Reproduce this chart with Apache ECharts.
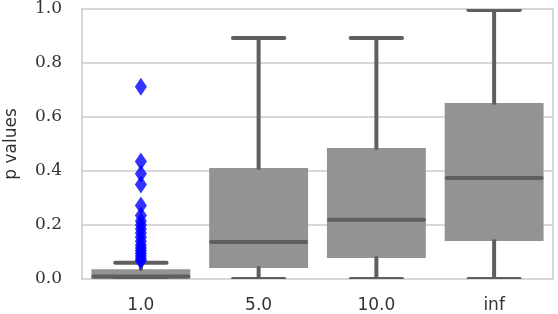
<!DOCTYPE html>
<html><head><meta charset="utf-8">
<script src="https://cdn.jsdelivr.net/npm/echarts@6/dist/echarts.min.js"></script>
<style>html,body{margin:0;padding:0;background:#fff}#c{width:558px;height:314px}</style>
</head><body><div id="c"></div>
<script>
var categories = ['1.0', '5.0', '10.0', 'inf'];
// [low whisker, q1, median, q3, high whisker]
var boxLow    = [0.0, 0.0, 0.0, 0.0];
var boxQ1     = [0.0, 0.041, 0.078, 0.141];
var boxMedian = [0.009, 0.137, 0.219, 0.374];
var boxQ3     = [0.036, 0.411, 0.485, 0.652];
var boxHigh   = [0.06, 0.893, 0.893, 0.996];
var outlierCategory = '1.0';
var outlierValues = [0.712, 0.435, 0.39, 0.35, 0.272, 0.235, 0.215, 0.2, 0.185, 0.17, 0.155, 0.14, 0.125, 0.115, 0.105, 0.095, 0.085, 0.075, 0.068];
var yTicks = [0, 0.2, 0.4, 0.6, 0.8, 1.0];

var boxData = categories.map(function (c, i) {
  return [i, boxLow[i], boxQ1[i], boxMedian[i], boxQ3[i], boxHigh[i]];
});
var outlierData = outlierValues.map(function (v) { return [outlierCategory, v]; });

var lineColor = '#5f5f5f';
var chart = echarts.init(document.getElementById('c'), null, {renderer: 'canvas'});
chart.setOption({
  animation: false,
  backgroundColor: '#fff',
  grid: {left: 82, right: 5, top: 9, bottom: 35, show: true, borderColor: '#d8d8d8', borderWidth: 2, backgroundColor: 'transparent', containLabel: false, outerBoundsMode: 'none'},
  xAxis: {
    type: 'category', data: categories, boundaryGap: true,
    axisLine: {show: false}, axisTick: {show: false}, splitLine: {show: false},
    axisLabel: {fontFamily: 'DejaVu Sans', fontSize: 17, color: '#333', margin: 18}
  },
  yAxis: {
    type: 'value', min: yTicks[0], max: yTicks[yTicks.length - 1], interval: 0.2,
    name: 'p values', nameLocation: 'middle', nameGap: 62,
    nameTextStyle: {fontFamily: 'DejaVu Sans', fontSize: 17, color: '#333'},
    axisLine: {show: false}, axisTick: {show: false},
    splitLine: {show: true, lineStyle: {color: '#d8d8d8', width: 2}},
    axisLabel: {fontFamily: 'DejaVu Serif', fontSize: 17, color: '#333', margin: 20,
      formatter: function (v) { return v.toFixed(1); }}
  },
  series: [{
    type: 'custom', data: boxData, clip: true, z: 2,
    encode: {x: 0, y: [1, 2, 3, 4, 5]},
    renderItem: function (params, api) {
      var idx = api.value(0);
      var band = api.size([1, 0])[0];
      var bw = band * 0.84;
      var cw = bw * 0.52;
      var pLow = api.coord([idx, api.value(1)]);
      var pQ1 = api.coord([idx, api.value(2)]);
      var pMed = api.coord([idx, api.value(3)]);
      var pQ3 = api.coord([idx, api.value(4)]);
      var pHigh = api.coord([idx, api.value(5)]);
      var cx = pQ1[0];
      var ls = {stroke: lineColor, lineWidth: 4, lineCap: 'round'};
      return {type: 'group', children: [
        {type: 'rect', shape: {x: cx - bw / 2, y: pQ3[1], width: bw, height: pQ1[1] - pQ3[1]}, style: {fill: '#939393'}},
        {type: 'line', shape: {x1: cx, y1: pQ3[1], x2: cx, y2: pHigh[1]}, style: ls},
        {type: 'line', shape: {x1: cx, y1: pQ1[1], x2: cx, y2: pLow[1]}, style: ls},
        {type: 'line', shape: {x1: cx - cw / 2, y1: pHigh[1], x2: cx + cw / 2, y2: pHigh[1]}, style: ls},
        {type: 'line', shape: {x1: cx - cw / 2, y1: pLow[1], x2: cx + cw / 2, y2: pLow[1]}, style: ls},
        {type: 'line', shape: {x1: cx - bw / 2 + 2, y1: pMed[1], x2: cx + bw / 2 - 2, y2: pMed[1]}, style: ls}
      ]};
    }
  }, {
    type: 'scatter', data: outlierData, symbol: 'diamond', symbolSize: [12, 18], z: 3,
    itemStyle: {color: '#0000ff'}
  }]
});
</script></body></html>
